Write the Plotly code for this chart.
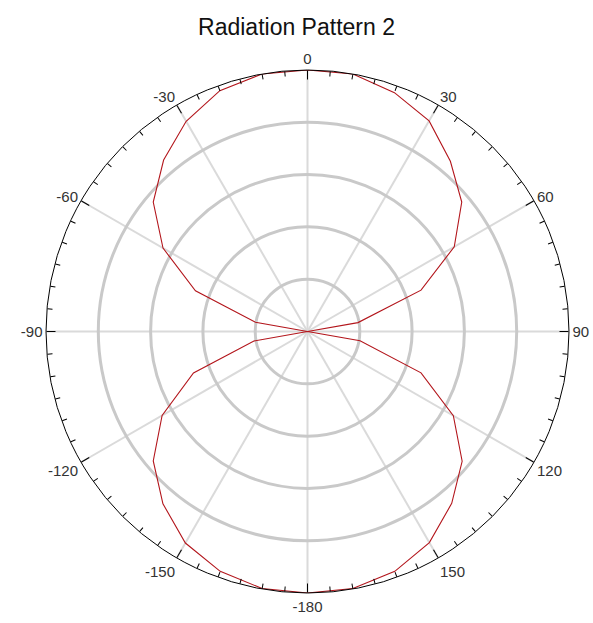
import plotly.graph_objects as go

# angles in degrees (0 at top, clockwise) and radial values (outer ring = 5)
theta_deg = [-180, -170, -160, -150, -140, -130, -120, -110, -100, -90,
             -80, -70, -60, -50, -40, -30, -20, -10, 0,
             10, 20, 30, 40, 50, 60, 70, 80, 90,
             100, 110, 120, 130, 140, 150, 160, 170, 180]
r_vals = [5.0, 4.99, 4.88, 4.67, 4.30, 3.85, 3.21, 2.32, 1.04, 0.0,
          1.01, 2.28, 3.19, 3.85, 4.28, 4.64, 4.90, 5.0, 5.0,
          5.0, 4.86, 4.65, 4.25, 3.85, 3.24, 2.31, 0.98, 0.0,
          1.02, 2.31, 3.22, 3.86, 4.29, 4.66, 4.88, 4.99, 5.0]

major_ticks = [0, 30, 60, 90, 120, 150, 180, 210, 240, 270, 300, 330]
major_labels = ["0", "30", "60", "90", "120", "150", "-180", "-150", "-120", "-90", "-60", "-30"]
minor_ticks = [a for a in range(0, 360, 5) if a % 30 != 0]
radial_grid = [1, 2, 3, 4]

fig = go.Figure()
fig.add_trace(go.Scatterpolar(
    r=r_vals, theta=theta_deg, mode="lines",
    line=dict(color="#b3161c", width=1.1),
    subplot="polar", showlegend=False, hoverinfo="skip"))
fig.add_trace(go.Scatterpolar(
    r=[None], theta=[0], mode="lines", subplot="polar2",
    showlegend=False, hoverinfo="skip"))

font_family = "Liberation Sans, Arial, sans-serif"

fig.update_layout(
    width=593, height=623,
    paper_bgcolor="white",
    margin=dict(l=46, r=24, t=70, b=30),
    title=dict(text="Radiation Pattern 2", x=0.5, xanchor="center",
               y=0.957, yanchor="middle",
               font=dict(family=font_family, size=23, color="#111111")),
    font=dict(family=font_family, size=15, color="#333333"),
    polar=dict(
        domain=dict(x=[0, 1], y=[0, 1]),
        bgcolor="white",
        angularaxis=dict(
            direction="clockwise", rotation=90,
            tickmode="array", tickvals=major_ticks, ticktext=major_labels,
            ticks="inside", ticklen=9, tickcolor="black", tickwidth=1,
            showline=True, linecolor="black", linewidth=1,
            showgrid=True, gridcolor="#dadada", gridwidth=2,
            tickfont=dict(family=font_family, size=15, color="#333333"),
        ),
        radialaxis=dict(
            range=[0, 5], tickmode="array", tickvals=radial_grid,
            showticklabels=False, ticks="", showline=False,
            showgrid=True, gridcolor="#c9c9c9", gridwidth=2.5,
        ),
    ),
    polar2=dict(
        domain=dict(x=[0, 1], y=[0, 1]),
        bgcolor="rgba(0,0,0,0)",
        angularaxis=dict(
            direction="clockwise", rotation=90,
            tickmode="array", tickvals=minor_ticks,
            ticks="inside", ticklen=5, tickcolor="black", tickwidth=1,
            showticklabels=False, showline=False, showgrid=False,
        ),
        radialaxis=dict(range=[0, 5], visible=False),
    ),
)

fig.write_html(
    "out.html",
    config={"displayModeBar": False},
    post_script="document.body.style.margin='0';document.documentElement.style.overflow='hidden';",
)
